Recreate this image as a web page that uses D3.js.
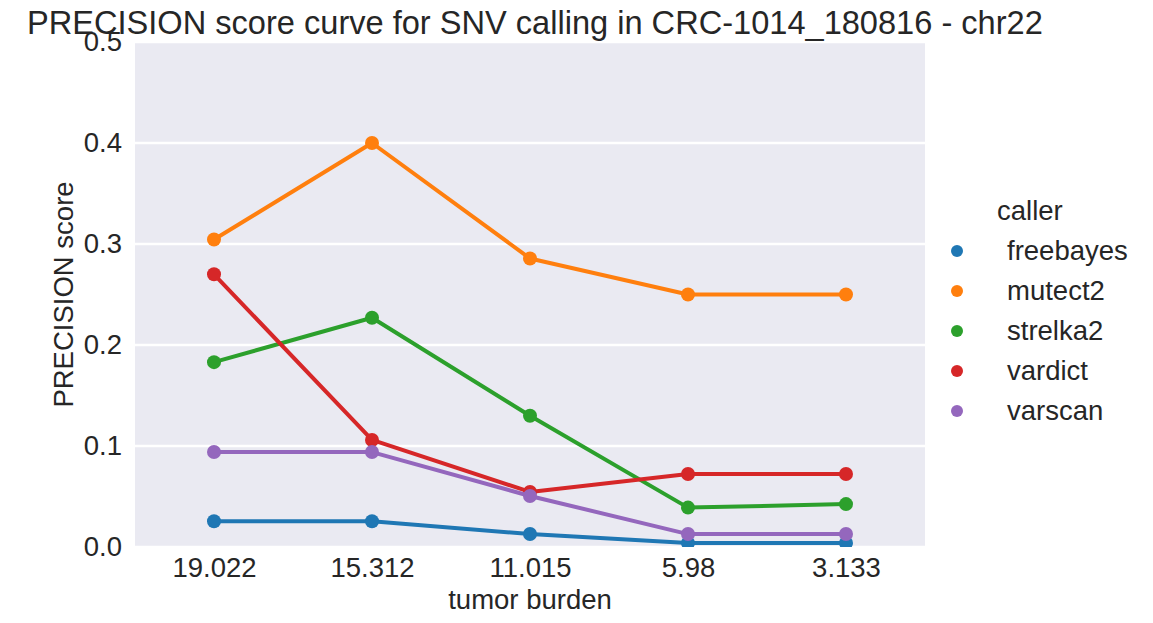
<!DOCTYPE html>
<html>
<head>
<meta charset="utf-8">
<script src="https://cdn.jsdelivr.net/npm/d3@7"></script>
<style>
  body { margin: 0; background: #fff; }
  text { font-family: "Liberation Sans", Arial, sans-serif; fill: #262626; }
</style>
</head>
<body>
<div id="chart"></div>
<script>
const width = 1153;
const height = 623;
const plotLeft = 135, plotRight = 925, plotTop = 42, plotBottom = 547;
const bgColor = "#EAEAF2";
const fontSize = 27.5;

// data
const burden = ["19.022", "15.312", "11.015", "5.98", "3.133"];
const callers = ["freebayes", "mutect2", "strelka2", "vardict", "varscan"];
const colors = ["#1f77b4", "#ff7f0e", "#2ca02c", "#d62728", "#9467bd"];
const freebayes = [0.0255, 0.0255, 0.0128, 0.004, 0.004];
const mutect2 = [0.3045, 0.400, 0.2857, 0.250, 0.250];
const strelka2 = [0.183, 0.227, 0.130, 0.039, 0.0425];
const vardict = [0.270, 0.106, 0.0545, 0.0723, 0.0723];
const varscan = [0.094, 0.094, 0.0505, 0.0128, 0.0128];
const yTicks = [0, 0.1, 0.2, 0.3, 0.4, 0.5];

const series = [freebayes, mutect2, strelka2, vardict, varscan];

var svg = d3.select("#chart")
    .append("svg")
    .attr("width", width)
    .attr("height", height);

var x = d3.scalePoint().domain(burden).range([plotLeft, plotRight]).padding(0.5);
var y = d3.scaleLinear().domain([0, 0.5]).range([plotBottom, plotTop]);

svg.append("defs").append("clipPath")
    .attr("id", "plotclip")
    .append("rect")
    .attr("x", plotLeft)
    .attr("y", plotTop)
    .attr("width", plotRight - plotLeft)
    .attr("height", plotBottom - plotTop);

// background
svg.append("rect")
    .attr("x", plotLeft)
    .attr("y", plotTop)
    .attr("width", plotRight - plotLeft)
    .attr("height", plotBottom - plotTop)
    .attr("fill", bgColor);

// horizontal grid
svg.append("g")
    .attr("clip-path", "url(#plotclip)")
    .selectAll("line")
    .data(yTicks)
    .enter()
    .append("line")
    .attr("x1", plotLeft)
    .attr("x2", plotRight)
    .attr("y1", function (d) { return y(d); })
    .attr("y2", function (d) { return y(d); })
    .style("stroke", "#fff")
    .style("stroke-width", 2.5);

// axes
var yAxis = svg.append("g")
    .attr("transform", "translate(" + plotLeft + ",0)")
    .call(d3.axisLeft(y).tickValues(yTicks).tickFormat(d3.format(".1f")).tickSize(0).tickPadding(13));
var xAxis = svg.append("g")
    .attr("transform", "translate(0," + plotBottom + ")")
    .call(d3.axisBottom(x).tickSize(0).tickPadding(10));
[xAxis, yAxis].forEach(function (g) {
    g.select(".domain").remove();
    g.selectAll("text")
        .style("font-size", fontSize + "px")
        .style("font-family", "'Liberation Sans', Arial, sans-serif")
        .attr("fill", "#262626");
});

// lines and points
var line = d3.line()
    .x(function (d, i) { return x(burden[i]); })
    .y(function (d) { return y(d); });

var marks = svg.append("g").attr("clip-path", "url(#plotclip)");
series.forEach(function (values, k) {
    marks.append("path")
        .attr("d", line(values))
        .attr("fill", "none")
        .style("stroke", colors[k])
        .style("stroke-width", 4)
        .style("stroke-linejoin", "round");
    marks.selectAll(".pt" + k)
        .data(values)
        .enter()
        .append("circle")
        .attr("cx", function (d, i) { return x(burden[i]); })
        .attr("cy", function (d) { return y(d); })
        .attr("r", 7)
        .attr("fill", colors[k]);
});

// title and axis labels
svg.append("text")
    .attr("x", 27)
    .attr("y", 34)
    .style("font-size", "32.6px")
    .text("PRECISION score curve for SNV calling in CRC-1014_180816 - chr22");

svg.append("text")
    .attr("x", (plotLeft + plotRight) / 2)
    .attr("y", 609)
    .attr("text-anchor", "middle")
    .style("font-size", fontSize + "px")
    .text("tumor burden");

svg.append("text")
    .attr("transform", "translate(73," + (plotTop + plotBottom) / 2 + ") rotate(-90)")
    .attr("text-anchor", "middle")
    .style("font-size", fontSize + "px")
    .text("PRECISION score");

// legend
var legend = svg.append("g");
legend.append("text")
    .attr("x", 997)
    .attr("y", 220)
    .style("font-size", fontSize + "px")
    .text("caller");
callers.forEach(function (name, k) {
    var ly = 251 + k * 40;
    legend.append("circle")
        .attr("cx", 957)
        .attr("cy", ly)
        .attr("r", 6)
        .attr("fill", colors[k]);
    legend.append("text")
        .attr("x", 1007)
        .attr("y", ly + 9)
        .style("font-size", fontSize + "px")
        .text(name);
});
</script>
</body>
</html>
